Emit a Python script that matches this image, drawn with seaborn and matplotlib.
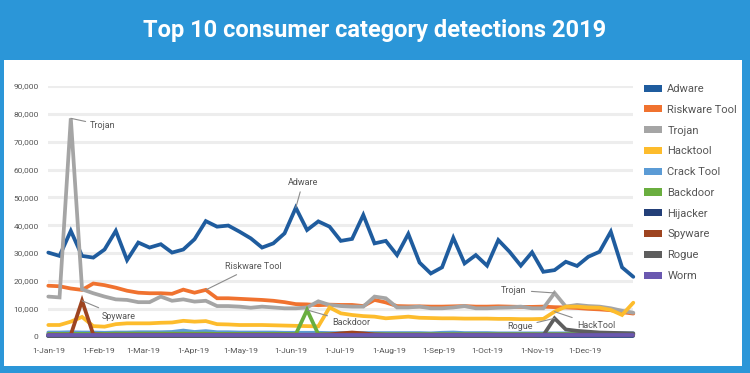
import pandas as pd
import numpy as np
import matplotlib.pyplot as plt
import matplotlib.dates as mdates
from matplotlib.patches import Patch, Rectangle
from matplotlib.ticker import FuncFormatter
import seaborn as sns

# Weekly detections, 2019
dates = pd.date_range("2019-01-01", periods=53, freq="7D")

adware = [30200, 29000, 38000, 29000, 28400, 31300, 38000, 27500, 33800, 32000,
          33200, 30200, 31300, 35000, 41500, 39500, 39900, 37700, 35300, 32000,
          33500, 37100, 46300, 38300, 41400, 39500, 34400, 35100, 43700, 33500,
          34400, 29300, 36900, 26600, 22700, 24900, 35500, 26300, 29300, 25500,
          34700, 30500, 25500, 30300, 23300, 23900, 26900, 25400, 28700, 30500,
          37700, 24900, 21500]
riskware = [18300, 18100, 17300, 16800, 19100, 18500, 17600, 16500, 15800, 15600,
            15600, 15400, 16900, 15800, 16800, 13800, 13800, 13600, 13400, 13200,
            12900, 12400, 11700, 11600, 11300, 11500, 11400, 11400, 11000, 13200,
            12300, 11000, 10900, 10900, 10800, 10800, 10900, 11000, 10800, 10800,
            10900, 10800, 10700, 10700, 10800, 10600, 10500, 10300, 10000, 9800,
            9500, 8800, 8300]
trojan = [14400, 14100, 78400, 17000, 15600, 14400, 13400, 13200, 12400, 12400,
          14400, 12900, 13400, 12600, 12900, 11000, 11000, 10800, 10400, 10800,
          10500, 10200, 10200, 10500, 12700, 11400, 11000, 10800, 10800, 14400,
          13800, 10500, 10500, 10800, 10200, 10200, 10500, 11000, 10200, 10200,
          10400, 10500, 10800, 10200, 10200, 15700, 10800, 11400, 11000, 10800,
          10200, 9300, 8600]
hacktool = [4200, 4200, 5400, 7100, 3800, 3600, 4500, 4800, 4800, 4800,
            5000, 5100, 5700, 5400, 5600, 4500, 4400, 4200, 4200, 4200,
            4100, 4000, 3900, 3800, 3700, 10500, 8400, 7800, 7400, 7200,
            6600, 6900, 7200, 6800, 6700, 6600, 6600, 6500, 6500, 6500,
            6400, 6400, 6300, 6300, 6400, 9000, 10800, 10800, 10500, 10400,
            9600, 7800, 12200]
crack_tool = [1500, 1500, 1600, 1500, 1500, 1400, 1500, 1500, 1600, 1600,
              1600, 1700, 2200, 1700, 2000, 1600, 1600, 1500, 1500, 1500,
              1500, 1400, 1400, 1400, 1400, 1300, 1300, 1300, 1300, 1300,
              1300, 1300, 1300, 1300, 1200, 1400, 1500, 1300, 1300, 1300,
              1200, 1200, 1200, 1200, 1200, 1200, 1200, 1200, 1200, 1200,
              1200, 1200, 1200]
backdoor = [1000, 1000, 1000, 1000, 1000, 1000, 1100, 1100, 1100, 1100,
            1100, 1100, 1100, 1100, 1100, 1000, 1000, 1000, 1000, 1000,
            1000, 1000, 900, 9600, 900, 900, 900, 900, 900, 900,
            900, 900, 900, 900, 900, 900, 900, 900, 900, 900,
            900, 900, 900, 900, 900, 900, 900, 900, 900, 900,
            900, 900, 900]
hijacker = [300] * 53
spyware = [700, 700, 700, 12900, 800, 700, 700, 700, 700, 700,
           700, 700, 700, 700, 700, 700, 700, 700, 700, 700,
           700, 700, 700, 700, 700, 800, 1200, 1500, 1200, 800,
           700, 700, 700, 700, 700, 700, 700, 700, 700, 700,
           700, 700, 700, 700, 700, 700, 700, 700, 700, 700,
           700, 700, 700]
rogue = [300] * 44 + [500, 6600, 2600, 2100, 1800, 1500, 1400, 1300, 1200]
worm = [600] * 53

categories = ["Adware", "Riskware Tool", "Trojan", "Hacktool", "Crack Tool",
              "Backdoor", "Hijacker", "Spyware", "Rogue", "Worm"]
series = [adware, riskware, trojan, hacktool, crack_tool,
          backdoor, hijacker, spyware, rogue, worm]
colors = ["#1F5C9E", "#F0722F", "#A5A5A5", "#FDBC2C", "#5B9BD5",
          "#6AAE3F", "#233F78", "#9E4420", "#5E5E5E", "#6A58B0"]

wide = pd.DataFrame(dict(zip(categories, series)), index=dates)
long = wide.reset_index().melt(id_vars="index", var_name="category", value_name="value")
long = long.rename(columns={"index": "date"})

sns.set_style("white")
plt.rcParams["font.family"] = ["Roboto", "DejaVu Sans"]

fig = plt.figure(figsize=(7.5, 3.73), dpi=100)
fig.patch.set_facecolor("#2B96D8")
fig.patches.append(Rectangle((4 / 750, 7 / 373), 738 / 750, (366 - 59.5) / 373,
                             transform=fig.transFigure, facecolor="white",
                             edgecolor="none", zorder=-5))

fig.text(0.5, 1 - 30 / 373, "Top 10 consumer category detections 2019",
         color="white", fontsize=17, fontweight="bold", ha="center", va="center")

ax = fig.add_axes([48.3 / 750, 36.3 / 373, 585 / 750, 250.7 / 373])
ax.set_facecolor("none")

sns.lineplot(data=long, x="date", y="value", hue="category", hue_order=categories,
             palette=dict(zip(categories, colors)), linewidth=2.7, legend=False, ax=ax)
for line in ax.lines:
    line.set_clip_on(False)
    line.set_solid_joinstyle("miter")

ax.set_ylim(0, 90000)
ax.set_yticks(np.arange(0, 90001, 10000))
ax.yaxis.set_major_formatter(FuncFormatter(lambda v, p: f"{int(v):,}"))
ax.set_xlim(dates[0], dates[-1])
ax.xaxis.set_major_locator(mdates.MonthLocator())
ax.xaxis.set_major_formatter(mdates.DateFormatter("%-d-%b-%y"))

ax.grid(axis="y", color="#EDEDED", linewidth=2.2)
ax.set_axisbelow(True)
for s in ax.spines.values():
    s.set_visible(False)
ax.tick_params(axis="y", length=0, pad=7, labelsize=6, labelcolor="#555555")
ax.tick_params(axis="x", length=3, width=1.2, color="#DDDDDD", pad=5,
               labelsize=6, labelcolor="#555555")
ax.set_xlabel("")
ax.set_ylabel("")

# Callout labels
lead = dict(arrowstyle="-", color="#8C8C8C", lw=0.8, shrinkA=1, shrinkB=0)
notes = [
    ("Trojan", dates[2], trojan[2], (14, -5), "left"),
    ("Adware", dates[22], adware[22], (5, 18), "center"),
    ("Riskware Tool", dates[14], riskware[14], (14, 17), "left"),
    ("Spyware", dates[3], spyware[3], (14, -11), "left"),
    ("Backdoor", dates[23], backdoor[23], (18, -9), "left"),
    ("Trojan", dates[45], trojan[45], (-20, 2), "right"),
    ("HackTool", dates[45], hacktool[45], (16, -10), "left"),
    ("Rogue", dates[45], rogue[45], (-16, -6), "right"),
]
for text, x, y, off, ha in notes:
    ax.annotate(text, xy=(x, y), xytext=off, textcoords="offset points",
                ha=ha, va="center", fontsize=6.5, color="#555555",
                arrowprops=lead, zorder=5)

handles = [Patch(facecolor=c, edgecolor="none") for c in colors]
fig.legend(handles, categories, loc="upper left", bbox_to_anchor=(634 / 750, 1 - 74 / 373),
           frameon=False, fontsize=8, labelcolor="#555555", handlelength=1.6,
           handleheight=0.6, labelspacing=0.97, handletextpad=0.5)

fig.savefig("out.png", dpi=100, facecolor=fig.get_facecolor())
